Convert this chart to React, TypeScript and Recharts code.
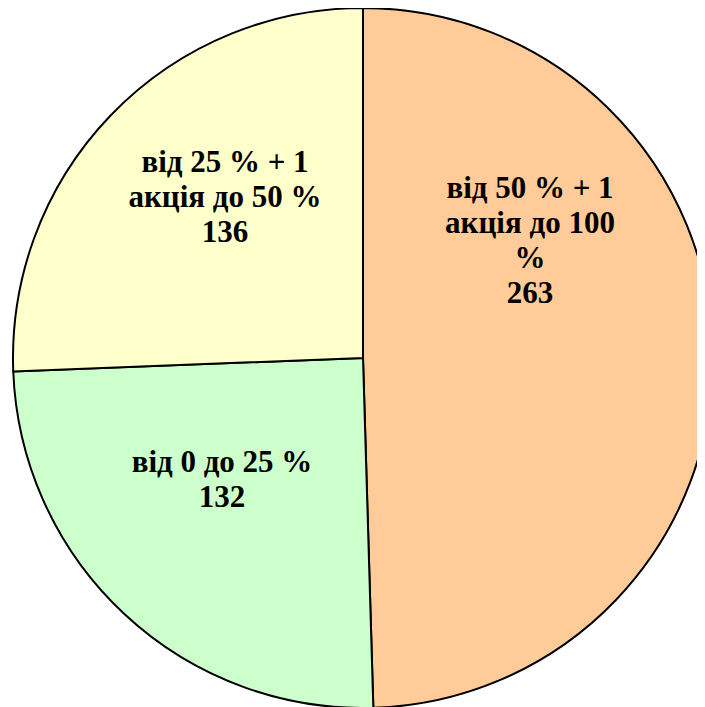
import React from 'react'
import { PieChart, Pie, Cell } from 'recharts'

// частки акцій: кількість учасників за розміром пакета
const CATEGORIES = ['від 50 % + 1 акція до 100 %', 'від 0 до 25 %', 'від 25 % + 1 акція до 50 %']
const VALUES = [263, 132, 136]
const LABEL_LINES = [
  ['від 50 % + 1', 'акція до 100', '%', '263'],
  ['від 0 до 25 %', '132'],
  ['від 25 % + 1', 'акція до 50 %', '136'],
]
const COLORS = ['#FFCC99', '#CCFFCC', '#FFFFCC']

// label centre offsets from the pie centre
const LABEL_OFFSET = [
  { dx: 167, dy: -118 },
  { dx: -141, dy: 121 },
  { dx: -138, dy: -162 },
]

const FONT = "'Liberation Serif', 'Times New Roman', serif"
const LINE_H = 35

const data = CATEGORIES.map((name, i) => ({ name, value: VALUES[i] }))

function renderLabel(props: any) {
  const { cx, cy, index } = props
  const lines = LABEL_LINES[index]
  const off = LABEL_OFFSET[index]
  const x = cx + off.dx
  const y0 = cy + off.dy - ((lines.length - 1) * LINE_H) / 2
  return (
    <text
      x={x}
      y={y0}
      textAnchor="middle"
      fontFamily={FONT}
      fontWeight={700}
      fontSize={31}
      fill="#000"
    >
      {lines.map((l, k) => (
        <tspan key={k} x={x} y={y0 + k * LINE_H} dominantBaseline="central">{l}</tspan>
      ))}
    </text>
  )
}

export default function App() {
  return (
    <div style={{ width: 697, height: 699, background: '#fff' }}>
      <PieChart width={697} height={699} margin={{ top: 0, right: 0, bottom: 0, left: 0 }}>
        <Pie
          data={data}
          dataKey="value"
          nameKey="name"
          cx={355}
          cy={350}
          outerRadius={350}
          startAngle={90}
          endAngle={-270}
          stroke="#000"
          strokeWidth={2}
          label={renderLabel}
          labelLine={false}
          isAnimationActive={false}
        >
          {data.map((_, i) => (
            <Cell key={i} fill={COLORS[i]} />
          ))}
        </Pie>
      </PieChart>
    </div>
  )
}
